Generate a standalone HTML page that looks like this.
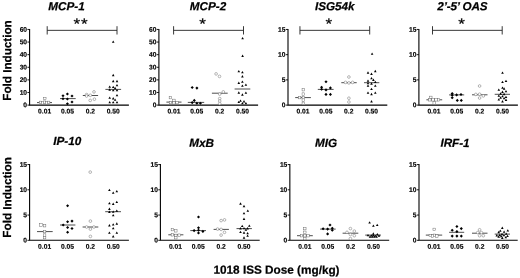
<!DOCTYPE html><html><head><meta charset="utf-8"><title>Figure</title>
<style>html,body{margin:0;padding:0;background:#fff}svg{display:block}text{font-family:'Liberation Sans', Arial, sans-serif;fill:#000;text-rendering:geometricPrecision}.b{stroke:#000;stroke-width:0.22px}.s{stroke:#000;stroke-width:0.15px}</style></head><body>
<svg width="520" height="278" viewBox="0 0 520 278">
<rect width="520" height="278" fill="#fff"/>
<g>
<g><text transform="translate(66.5 10.3) rotate(0.15)" font-size="11.7" class="b" font-weight="bold" font-style="italic" letter-spacing="0" text-anchor="middle">MCP-1</text><path d="M29.6 28.9V105.1H128.9" fill="none" stroke="#000" stroke-width="1.1"/><path d="M27.45 105.10H29.6" stroke="#000" stroke-width="0.9"/><text transform="translate(27.10 107.30) rotate(0.15)" font-size="6.7" class="s" font-weight="bold" text-anchor="end">0</text><path d="M27.45 92.49H29.6" stroke="#000" stroke-width="0.9"/><text transform="translate(27.10 94.69) rotate(0.15)" font-size="6.7" class="s" font-weight="bold" text-anchor="end">10</text><path d="M27.45 79.88H29.6" stroke="#000" stroke-width="0.9"/><text transform="translate(27.10 82.08) rotate(0.15)" font-size="6.7" class="s" font-weight="bold" text-anchor="end">20</text><path d="M27.45 67.28H29.6" stroke="#000" stroke-width="0.9"/><text transform="translate(27.10 69.48) rotate(0.15)" font-size="6.7" class="s" font-weight="bold" text-anchor="end">30</text><path d="M27.45 54.67H29.6" stroke="#000" stroke-width="0.9"/><text transform="translate(27.10 56.87) rotate(0.15)" font-size="6.7" class="s" font-weight="bold" text-anchor="end">40</text><path d="M27.45 42.06H29.6" stroke="#000" stroke-width="0.9"/><text transform="translate(27.10 44.26) rotate(0.15)" font-size="6.7" class="s" font-weight="bold" text-anchor="end">50</text><path d="M27.45 29.45H29.6" stroke="#000" stroke-width="0.9"/><text transform="translate(27.10 31.65) rotate(0.15)" font-size="6.7" class="s" font-weight="bold" text-anchor="end">60</text><text transform="translate(44.60 113.50) rotate(0.15)" font-size="6.7" class="s" font-weight="bold" text-anchor="middle">0.01</text><text transform="translate(67.45 113.50) rotate(0.15)" font-size="6.7" class="s" font-weight="bold" text-anchor="middle">0.05</text><text transform="translate(90.30 113.50) rotate(0.15)" font-size="6.7" class="s" font-weight="bold" text-anchor="middle">0.2</text><text transform="translate(113.15 113.50) rotate(0.15)" font-size="6.7" class="s" font-weight="bold" text-anchor="middle">0.50</text><path d="M47.2 26.200000000000003V34.5M117.0 26.200000000000003V34.5M47.2 30.35H117.0" stroke="#222" stroke-width="0.9" fill="none"/><text transform="translate(81 29.1) rotate(0.15) scale(1 0.9)" font-size="17" text-anchor="middle" stroke="#000" stroke-width="0.25" letter-spacing="0.9" font-weight="normal">**</text><path d="M37 102.6H52" stroke="#000" stroke-width="0.7"/><rect x="43.55" y="97.25" width="2.50" height="2.50" fill="#fff" stroke="#606060" stroke-width="0.45"/><rect x="39.25" y="101.15" width="2.50" height="2.50" fill="#fff" stroke="#606060" stroke-width="0.45"/><rect x="41.35" y="101.65" width="2.50" height="2.50" fill="#fff" stroke="#606060" stroke-width="0.45"/><rect x="43.35" y="100.95" width="2.50" height="2.50" fill="#fff" stroke="#606060" stroke-width="0.45"/><rect x="45.35" y="101.65" width="2.50" height="2.50" fill="#fff" stroke="#606060" stroke-width="0.45"/><rect x="47.35" y="101.15" width="2.50" height="2.50" fill="#fff" stroke="#606060" stroke-width="0.45"/><path d="M60 98.6H75.7" stroke="#000" stroke-width="0.7"/><path d="M63.00 94.15L64.55 95.70L63.00 97.25L61.45 95.70Z" fill="#000"/><path d="M67.40 92.45L68.95 94.00L67.40 95.55L65.85 94.00Z" fill="#000"/><path d="M72.00 94.45L73.55 96.00L72.00 97.55L70.45 96.00Z" fill="#000"/><path d="M63.00 97.25L64.55 98.80L63.00 100.35L61.45 98.80Z" fill="#000"/><path d="M67.40 97.45L68.95 99.00L67.40 100.55L65.85 99.00Z" fill="#000"/><path d="M72.00 100.45L73.55 102.00L72.00 103.55L70.45 102.00Z" fill="#000"/><path d="M67.40 102.25L68.95 103.80L67.40 105.35L65.85 103.80Z" fill="#000"/><path d="M82.8 95.5H98.1" stroke="#000" stroke-width="0.7"/><circle cx="86.60" cy="94.60" r="1.35" fill="#fff" stroke="#606060" stroke-width="0.45"/><circle cx="86.60" cy="96.00" r="1.35" fill="#fff" stroke="#606060" stroke-width="0.45"/><circle cx="90.30" cy="95.30" r="1.35" fill="#fff" stroke="#606060" stroke-width="0.45"/><circle cx="94.00" cy="91.90" r="1.35" fill="#fff" stroke="#606060" stroke-width="0.45"/><circle cx="90.20" cy="100.40" r="1.35" fill="#fff" stroke="#606060" stroke-width="0.45"/><circle cx="94.40" cy="99.20" r="1.35" fill="#fff" stroke="#606060" stroke-width="0.45"/><path d="M105.4 89.4H121.1" stroke="#000" stroke-width="0.7"/><path d="M113.20 40.40L114.50 42.74L111.90 42.74Z" fill="#000"/><path d="M113.20 73.80L114.50 76.14L111.90 76.14Z" fill="#000"/><path d="M113.20 79.80L114.50 82.14L111.90 82.14Z" fill="#000"/><path d="M117.00 79.80L118.30 82.14L115.70 82.14Z" fill="#000"/><path d="M117.00 83.90L118.30 86.24L115.70 86.24Z" fill="#000"/><path d="M109.70 85.50L111.00 87.84L108.40 87.84Z" fill="#000"/><path d="M113.20 85.70L114.50 88.04L111.90 88.04Z" fill="#000"/><path d="M115.10 86.80L116.40 89.14L113.80 89.14Z" fill="#000"/><path d="M109.70 88.30L111.00 90.64L108.40 90.64Z" fill="#000"/><path d="M113.20 88.90L114.50 91.24L111.90 91.24Z" fill="#000"/><path d="M117.00 88.90L118.30 91.24L115.70 91.24Z" fill="#000"/><path d="M117.00 94.00L118.30 96.34L115.70 96.34Z" fill="#000"/><path d="M109.70 96.50L111.00 98.84L108.40 98.84Z" fill="#000"/><path d="M113.20 97.10L114.50 99.44L111.90 99.44Z" fill="#000"/><path d="M115.10 98.40L116.40 100.74L113.80 100.74Z" fill="#000"/><path d="M109.70 100.90L111.00 103.24L108.40 103.24Z" fill="#000"/><path d="M113.20 100.90L114.50 103.24L111.90 103.24Z" fill="#000"/><path d="M117.00 100.90L118.30 103.24L115.70 103.24Z" fill="#000"/></g>
<g><text transform="translate(208 10.3) rotate(0.15)" font-size="11.7" class="b" font-weight="bold" font-style="italic" letter-spacing="0" text-anchor="middle">MCP-2</text><path d="M158.9 28.9V105.1H258.1" fill="none" stroke="#000" stroke-width="1.1"/><path d="M156.75 105.10H158.9" stroke="#000" stroke-width="0.9"/><text transform="translate(156.40 107.30) rotate(0.15)" font-size="6.7" class="s" font-weight="bold" text-anchor="end">0</text><path d="M156.75 92.49H158.9" stroke="#000" stroke-width="0.9"/><text transform="translate(156.40 94.69) rotate(0.15)" font-size="6.7" class="s" font-weight="bold" text-anchor="end">10</text><path d="M156.75 79.88H158.9" stroke="#000" stroke-width="0.9"/><text transform="translate(156.40 82.08) rotate(0.15)" font-size="6.7" class="s" font-weight="bold" text-anchor="end">20</text><path d="M156.75 67.28H158.9" stroke="#000" stroke-width="0.9"/><text transform="translate(156.40 69.48) rotate(0.15)" font-size="6.7" class="s" font-weight="bold" text-anchor="end">30</text><path d="M156.75 54.67H158.9" stroke="#000" stroke-width="0.9"/><text transform="translate(156.40 56.87) rotate(0.15)" font-size="6.7" class="s" font-weight="bold" text-anchor="end">40</text><path d="M156.75 42.06H158.9" stroke="#000" stroke-width="0.9"/><text transform="translate(156.40 44.26) rotate(0.15)" font-size="6.7" class="s" font-weight="bold" text-anchor="end">50</text><path d="M156.75 29.45H158.9" stroke="#000" stroke-width="0.9"/><text transform="translate(156.40 31.65) rotate(0.15)" font-size="6.7" class="s" font-weight="bold" text-anchor="end">60</text><text transform="translate(173.90 113.50) rotate(0.15)" font-size="6.7" class="s" font-weight="bold" text-anchor="middle">0.01</text><text transform="translate(196.75 113.50) rotate(0.15)" font-size="6.7" class="s" font-weight="bold" text-anchor="middle">0.05</text><text transform="translate(219.60 113.50) rotate(0.15)" font-size="6.7" class="s" font-weight="bold" text-anchor="middle">0.2</text><text transform="translate(242.45 113.50) rotate(0.15)" font-size="6.7" class="s" font-weight="bold" text-anchor="middle">0.50</text><path d="M173.6 26.200000000000003V34.5M243.5 26.200000000000003V34.5M173.6 30.35H243.5" stroke="#222" stroke-width="0.9" fill="none"/><text transform="translate(203 29.1) rotate(0.15) scale(1 0.9)" font-size="17" text-anchor="middle" stroke="#000" stroke-width="0.25" letter-spacing="0.9" font-weight="normal">*</text><path d="M166.4 102.1H181.5" stroke="#000" stroke-width="0.7"/><rect x="169.15" y="96.35" width="2.50" height="2.50" fill="#fff" stroke="#606060" stroke-width="0.45"/><rect x="172.65" y="99.15" width="2.50" height="2.50" fill="#fff" stroke="#606060" stroke-width="0.45"/><rect x="169.25" y="101.35" width="2.50" height="2.50" fill="#fff" stroke="#606060" stroke-width="0.45"/><rect x="172.65" y="101.55" width="2.50" height="2.50" fill="#fff" stroke="#606060" stroke-width="0.45"/><rect x="175.75" y="101.35" width="2.50" height="2.50" fill="#fff" stroke="#606060" stroke-width="0.45"/><path d="M187.8 102.4H204.2" stroke="#000" stroke-width="0.7"/><path d="M192.20 85.95L193.75 87.50L192.20 89.05L190.65 87.50Z" fill="#000"/><path d="M196.90 86.55L198.45 88.10L196.90 89.65L195.35 88.10Z" fill="#000"/><path d="M194.30 98.85L195.85 100.40L194.30 101.95L192.75 100.40Z" fill="#000"/><path d="M192.20 101.05L193.75 102.60L192.20 104.15L190.65 102.60Z" fill="#000"/><path d="M196.90 101.75L198.45 103.30L196.90 104.85L195.35 103.30Z" fill="#000"/><path d="M200.40 101.75L201.95 103.30L200.40 104.85L198.85 103.30Z" fill="#000"/><path d="M211.9 93.2H227.7" stroke="#000" stroke-width="0.7"/><circle cx="216.10" cy="73.90" r="1.35" fill="#fff" stroke="#606060" stroke-width="0.45"/><circle cx="219.50" cy="76.40" r="1.35" fill="#fff" stroke="#606060" stroke-width="0.45"/><circle cx="223.30" cy="91.90" r="1.35" fill="#fff" stroke="#606060" stroke-width="0.45"/><circle cx="219.70" cy="94.10" r="1.35" fill="#fff" stroke="#606060" stroke-width="0.45"/><circle cx="219.70" cy="98.60" r="1.35" fill="#fff" stroke="#606060" stroke-width="0.45"/><circle cx="219.70" cy="101.10" r="1.35" fill="#fff" stroke="#606060" stroke-width="0.45"/><circle cx="219.70" cy="103.60" r="1.35" fill="#fff" stroke="#606060" stroke-width="0.45"/><path d="M234.6 89H250.3" stroke="#000" stroke-width="0.7"/><path d="M242.60 37.00L243.90 39.34L241.30 39.34Z" fill="#000"/><path d="M242.60 54.60L243.90 56.94L241.30 56.94Z" fill="#000"/><path d="M238.80 70.00L240.10 72.34L237.50 72.34Z" fill="#000"/><path d="M242.40 71.00L243.70 73.34L241.10 73.34Z" fill="#000"/><path d="M242.40 75.10L243.70 77.44L241.10 77.44Z" fill="#000"/><path d="M238.80 81.60L240.10 83.94L237.50 83.94Z" fill="#000"/><path d="M242.40 80.40L243.70 82.74L241.10 82.74Z" fill="#000"/><path d="M245.90 83.50L247.20 85.84L244.60 85.84Z" fill="#000"/><path d="M242.40 84.50L243.70 86.84L241.10 86.84Z" fill="#000"/><path d="M238.80 91.30L240.10 93.64L237.50 93.64Z" fill="#000"/><path d="M245.90 91.40L247.20 93.74L244.60 93.74Z" fill="#000"/><path d="M242.40 93.30L243.70 95.64L241.10 95.64Z" fill="#000"/><path d="M240.50 99.40L241.80 101.74L239.20 101.74Z" fill="#000"/><path d="M238.80 100.70L240.10 103.04L237.50 103.04Z" fill="#000"/><path d="M244.00 100.10L245.30 102.44L242.70 102.44Z" fill="#000"/><path d="M242.40 102.00L243.70 104.34L241.10 104.34Z" fill="#000"/><path d="M245.90 102.00L247.20 104.34L244.60 104.34Z" fill="#000"/></g>
<g><text transform="translate(334.8 10.3) rotate(0.15)" font-size="11.7" class="b" font-weight="bold" font-style="italic" letter-spacing="0" text-anchor="middle">ISG54k</text><path d="M288.0 28.9V105.1H387.3" fill="none" stroke="#000" stroke-width="1.1"/><path d="M285.84999999999997 105.10H288.0" stroke="#000" stroke-width="0.9"/><text transform="translate(285.50 107.30) rotate(0.15)" font-size="6.7" class="s" font-weight="bold" text-anchor="end">0</text><path d="M285.84999999999997 79.88H288.0" stroke="#000" stroke-width="0.9"/><text transform="translate(285.50 82.08) rotate(0.15)" font-size="6.7" class="s" font-weight="bold" text-anchor="end">5</text><path d="M285.84999999999997 54.67H288.0" stroke="#000" stroke-width="0.9"/><text transform="translate(285.50 56.87) rotate(0.15)" font-size="6.7" class="s" font-weight="bold" text-anchor="end">10</text><path d="M285.84999999999997 29.45H288.0" stroke="#000" stroke-width="0.9"/><text transform="translate(285.50 31.65) rotate(0.15)" font-size="6.7" class="s" font-weight="bold" text-anchor="end">15</text><text transform="translate(303.00 113.50) rotate(0.15)" font-size="6.7" class="s" font-weight="bold" text-anchor="middle">0.01</text><text transform="translate(325.85 113.50) rotate(0.15)" font-size="6.7" class="s" font-weight="bold" text-anchor="middle">0.05</text><text transform="translate(348.70 113.50) rotate(0.15)" font-size="6.7" class="s" font-weight="bold" text-anchor="middle">0.2</text><text transform="translate(371.55 113.50) rotate(0.15)" font-size="6.7" class="s" font-weight="bold" text-anchor="middle">0.50</text><path d="M299.95 26.200000000000003V34.5M369.7 26.200000000000003V34.5M299.95 30.35H369.7" stroke="#222" stroke-width="0.9" fill="none"/><text transform="translate(329.3 29.1) rotate(0.15) scale(1 0.9)" font-size="17" text-anchor="middle" stroke="#000" stroke-width="0.25" letter-spacing="0.9" font-weight="normal">*</text><path d="M295.2 97.6H310.9" stroke="#000" stroke-width="0.7"/><rect x="302.05" y="88.45" width="2.50" height="2.50" fill="#fff" stroke="#606060" stroke-width="0.45"/><rect x="302.05" y="92.85" width="2.50" height="2.50" fill="#fff" stroke="#606060" stroke-width="0.45"/><rect x="298.35" y="96.35" width="2.50" height="2.50" fill="#fff" stroke="#606060" stroke-width="0.45"/><rect x="302.05" y="96.55" width="2.50" height="2.50" fill="#fff" stroke="#606060" stroke-width="0.45"/><rect x="302.05" y="98.85" width="2.50" height="2.50" fill="#fff" stroke="#606060" stroke-width="0.45"/><rect x="302.05" y="102.05" width="2.50" height="2.50" fill="#fff" stroke="#606060" stroke-width="0.45"/><path d="M317.8 89.4H333.6" stroke="#000" stroke-width="0.7"/><path d="M326.00 80.15L327.55 81.70L326.00 83.25L324.45 81.70Z" fill="#000"/><path d="M321.60 85.75L323.15 87.30L321.60 88.85L320.05 87.30Z" fill="#000"/><path d="M330.40 86.35L331.95 87.90L330.40 89.45L328.85 87.90Z" fill="#000"/><path d="M321.60 87.65L323.15 89.20L321.60 90.75L320.05 89.20Z" fill="#000"/><path d="M326.00 88.35L327.55 89.90L326.00 91.45L324.45 89.90Z" fill="#000"/><path d="M326.00 92.85L327.55 94.40L326.00 95.95L324.45 94.40Z" fill="#000"/><path d="M330.40 92.85L331.95 94.40L330.40 95.95L328.85 94.40Z" fill="#000"/><path d="M341.3 82.7H356.7" stroke="#000" stroke-width="0.7"/><circle cx="348.90" cy="77.00" r="1.35" fill="#fff" stroke="#606060" stroke-width="0.45"/><circle cx="345.50" cy="82.40" r="1.35" fill="#fff" stroke="#606060" stroke-width="0.45"/><circle cx="348.90" cy="82.90" r="1.35" fill="#fff" stroke="#606060" stroke-width="0.45"/><circle cx="352.60" cy="82.40" r="1.35" fill="#fff" stroke="#606060" stroke-width="0.45"/><circle cx="348.90" cy="98.20" r="1.35" fill="#fff" stroke="#606060" stroke-width="0.45"/><circle cx="348.90" cy="102.00" r="1.35" fill="#fff" stroke="#606060" stroke-width="0.45"/><path d="M364 82.7H379.3" stroke="#000" stroke-width="0.7"/><path d="M372.10 52.40L373.40 54.74L370.80 54.74Z" fill="#000"/><path d="M375.30 69.80L376.60 72.14L374.00 72.14Z" fill="#000"/><path d="M368.00 71.30L369.30 73.64L366.70 73.64Z" fill="#000"/><path d="M371.50 72.60L372.80 74.94L370.20 74.94Z" fill="#000"/><path d="M371.50 77.00L372.80 79.34L370.20 79.34Z" fill="#000"/><path d="M373.40 78.60L374.70 80.94L372.10 80.94Z" fill="#000"/><path d="M368.00 79.50L369.30 81.84L366.70 81.84Z" fill="#000"/><path d="M375.30 80.70L376.60 83.04L374.00 83.04Z" fill="#000"/><path d="M368.00 82.00L369.30 84.34L366.70 84.34Z" fill="#000"/><path d="M371.50 82.30L372.80 84.64L370.20 84.64Z" fill="#000"/><path d="M368.00 84.50L369.30 86.84L366.70 86.84Z" fill="#000"/><path d="M375.30 84.50L376.60 86.84L374.00 86.84Z" fill="#000"/><path d="M371.50 87.70L372.80 90.04L370.20 90.04Z" fill="#000"/><path d="M368.00 91.40L369.30 93.74L366.70 93.74Z" fill="#000"/><path d="M375.30 91.40L376.60 93.74L374.00 93.74Z" fill="#000"/><path d="M371.50 92.80L372.80 95.14L370.20 95.14Z" fill="#000"/><path d="M371.50 100.10L372.80 102.44L370.20 102.44Z" fill="#000"/></g>
<g><text transform="translate(462.4 10.3) rotate(0.15)" font-size="11.7" class="b" font-weight="bold" font-style="italic" letter-spacing="-0.15" text-anchor="middle">2’-5’ OAS</text><path d="M418.9 28.9V105.1H517.9" fill="none" stroke="#000" stroke-width="1.1"/><path d="M416.74999999999994 105.10H418.9" stroke="#000" stroke-width="0.9"/><text transform="translate(416.40 107.30) rotate(0.15)" font-size="6.7" class="s" font-weight="bold" text-anchor="end">0</text><path d="M416.74999999999994 79.88H418.9" stroke="#000" stroke-width="0.9"/><text transform="translate(416.40 82.08) rotate(0.15)" font-size="6.7" class="s" font-weight="bold" text-anchor="end">5</text><path d="M416.74999999999994 54.67H418.9" stroke="#000" stroke-width="0.9"/><text transform="translate(416.40 56.87) rotate(0.15)" font-size="6.7" class="s" font-weight="bold" text-anchor="end">10</text><path d="M416.74999999999994 29.45H418.9" stroke="#000" stroke-width="0.9"/><text transform="translate(416.40 31.65) rotate(0.15)" font-size="6.7" class="s" font-weight="bold" text-anchor="end">15</text><text transform="translate(433.90 113.50) rotate(0.15)" font-size="6.7" class="s" font-weight="bold" text-anchor="middle">0.01</text><text transform="translate(456.75 113.50) rotate(0.15)" font-size="6.7" class="s" font-weight="bold" text-anchor="middle">0.05</text><text transform="translate(479.60 113.50) rotate(0.15)" font-size="6.7" class="s" font-weight="bold" text-anchor="middle">0.2</text><text transform="translate(502.45 113.50) rotate(0.15)" font-size="6.7" class="s" font-weight="bold" text-anchor="middle">0.50</text><path d="M432.5 26.200000000000003V34.5M502.2 26.200000000000003V34.5M432.5 30.35H502.2" stroke="#222" stroke-width="0.9" fill="none"/><text transform="translate(462.0 29.1) rotate(0.15) scale(1 0.9)" font-size="17" text-anchor="middle" stroke="#000" stroke-width="0.25" letter-spacing="0.9" font-weight="normal">*</text><path d="M426.4 99.8H442.2" stroke="#000" stroke-width="0.7"/><rect x="429.55" y="96.15" width="2.50" height="2.50" fill="#fff" stroke="#606060" stroke-width="0.45"/><rect x="428.55" y="98.55" width="2.50" height="2.50" fill="#fff" stroke="#606060" stroke-width="0.45"/><rect x="431.75" y="98.55" width="2.50" height="2.50" fill="#fff" stroke="#606060" stroke-width="0.45"/><rect x="434.75" y="98.55" width="2.50" height="2.50" fill="#fff" stroke="#606060" stroke-width="0.45"/><rect x="437.25" y="98.55" width="2.50" height="2.50" fill="#fff" stroke="#606060" stroke-width="0.45"/><rect x="432.95" y="101.75" width="2.50" height="2.50" fill="#fff" stroke="#606060" stroke-width="0.45"/><path d="M449.1 94.9H464.2" stroke="#000" stroke-width="0.7"/><path d="M452.20 92.05L453.75 93.60L452.20 95.15L450.65 93.60Z" fill="#000"/><path d="M452.20 93.65L453.75 95.20L452.20 96.75L450.65 95.20Z" fill="#000"/><path d="M456.60 93.35L458.15 94.90L456.60 96.45L455.05 94.90Z" fill="#000"/><path d="M461.00 92.95L462.55 94.50L461.00 96.05L459.45 94.50Z" fill="#000"/><path d="M452.20 96.15L453.75 97.70L452.20 99.25L450.65 97.70Z" fill="#000"/><path d="M457.30 98.85L458.85 100.40L457.30 101.95L455.75 100.40Z" fill="#000"/><path d="M461.30 98.85L462.85 100.40L461.30 101.95L459.75 100.40Z" fill="#000"/><path d="M472 94.8H487.5" stroke="#000" stroke-width="0.7"/><circle cx="479.60" cy="86.00" r="1.35" fill="#fff" stroke="#606060" stroke-width="0.45"/><circle cx="475.80" cy="94.40" r="1.35" fill="#fff" stroke="#606060" stroke-width="0.45"/><circle cx="479.60" cy="94.20" r="1.35" fill="#fff" stroke="#606060" stroke-width="0.45"/><circle cx="483.30" cy="95.90" r="1.35" fill="#fff" stroke="#606060" stroke-width="0.45"/><circle cx="479.60" cy="98.00" r="1.35" fill="#fff" stroke="#606060" stroke-width="0.45"/><path d="M494.7 94.3H510" stroke="#000" stroke-width="0.7"/><path d="M502.50 71.50L503.80 73.84L501.20 73.84Z" fill="#000"/><path d="M502.50 80.70L503.80 83.04L501.20 83.04Z" fill="#000"/><path d="M506.00 79.70L507.30 82.04L504.70 82.04Z" fill="#000"/><path d="M502.50 86.40L503.80 88.74L501.20 88.74Z" fill="#000"/><path d="M504.10 87.30L505.40 89.64L502.80 89.64Z" fill="#000"/><path d="M498.80 88.40L500.10 90.74L497.50 90.74Z" fill="#000"/><path d="M506.00 90.00L507.30 92.34L504.70 92.34Z" fill="#000"/><path d="M502.50 90.60L503.80 92.94L501.20 92.94Z" fill="#000"/><path d="M500.60 92.30L501.90 94.64L499.30 94.64Z" fill="#000"/><path d="M504.10 92.80L505.40 95.14L502.80 95.14Z" fill="#000"/><path d="M498.80 94.40L500.10 96.74L497.50 96.74Z" fill="#000"/><path d="M502.50 95.00L503.80 97.34L501.20 97.34Z" fill="#000"/><path d="M506.00 95.70L507.30 98.04L504.70 98.04Z" fill="#000"/><path d="M500.60 96.30L501.90 98.64L499.30 98.64Z" fill="#000"/><path d="M504.10 96.90L505.40 99.24L502.80 99.24Z" fill="#000"/><path d="M498.80 98.20L500.10 100.54L497.50 100.54Z" fill="#000"/><path d="M506.00 98.60L507.30 100.94L504.70 100.94Z" fill="#000"/><path d="M502.50 100.10L503.80 102.44L501.20 102.44Z" fill="#000"/></g>
<g><text transform="translate(67.3 145.0) rotate(0.15)" font-size="11.7" class="b" font-weight="bold" font-style="italic" letter-spacing="0" text-anchor="middle">IP-10</text><path d="M29.6 164.0V240.3H128.9" fill="none" stroke="#000" stroke-width="1.1"/><path d="M27.45 240.30H29.6" stroke="#000" stroke-width="0.9"/><text transform="translate(27.10 242.50) rotate(0.15)" font-size="6.7" class="s" font-weight="bold" text-anchor="end">0</text><path d="M27.45 215.05H29.6" stroke="#000" stroke-width="0.9"/><text transform="translate(27.10 217.25) rotate(0.15)" font-size="6.7" class="s" font-weight="bold" text-anchor="end">5</text><path d="M27.45 189.80H29.6" stroke="#000" stroke-width="0.9"/><text transform="translate(27.10 192.00) rotate(0.15)" font-size="6.7" class="s" font-weight="bold" text-anchor="end">10</text><path d="M27.45 164.55H29.6" stroke="#000" stroke-width="0.9"/><text transform="translate(27.10 166.75) rotate(0.15)" font-size="6.7" class="s" font-weight="bold" text-anchor="end">15</text><text transform="translate(44.60 248.70) rotate(0.15)" font-size="6.7" class="s" font-weight="bold" text-anchor="middle">0.01</text><text transform="translate(67.45 248.70) rotate(0.15)" font-size="6.7" class="s" font-weight="bold" text-anchor="middle">0.05</text><text transform="translate(90.30 248.70) rotate(0.15)" font-size="6.7" class="s" font-weight="bold" text-anchor="middle">0.2</text><text transform="translate(113.15 248.70) rotate(0.15)" font-size="6.7" class="s" font-weight="bold" text-anchor="middle">0.50</text><path d="M37 231.6H52.7" stroke="#000" stroke-width="0.7"/><rect x="39.75" y="223.75" width="2.50" height="2.50" fill="#fff" stroke="#606060" stroke-width="0.45"/><rect x="43.35" y="224.45" width="2.50" height="2.50" fill="#fff" stroke="#606060" stroke-width="0.45"/><rect x="43.35" y="230.35" width="2.50" height="2.50" fill="#fff" stroke="#606060" stroke-width="0.45"/><rect x="43.35" y="233.85" width="2.50" height="2.50" fill="#fff" stroke="#606060" stroke-width="0.45"/><rect x="43.35" y="236.35" width="2.50" height="2.50" fill="#fff" stroke="#606060" stroke-width="0.45"/><path d="M60 225H75.4" stroke="#000" stroke-width="0.7"/><path d="M67.60 204.15L69.15 205.70L67.60 207.25L66.05 205.70Z" fill="#000"/><path d="M67.60 220.15L69.15 221.70L67.60 223.25L66.05 221.70Z" fill="#000"/><path d="M72.00 219.55L73.55 221.10L72.00 222.65L70.45 221.10Z" fill="#000"/><path d="M63.20 223.45L64.75 225.00L63.20 226.55L61.65 225.00Z" fill="#000"/><path d="M67.60 225.95L69.15 227.50L67.60 229.05L66.05 227.50Z" fill="#000"/><path d="M72.00 226.95L73.55 228.50L72.00 230.05L70.45 228.50Z" fill="#000"/><path d="M67.60 230.75L69.15 232.30L67.60 233.85L66.05 232.30Z" fill="#000"/><path d="M82.6 227H98.3" stroke="#000" stroke-width="0.7"/><circle cx="90.20" cy="172.10" r="1.35" fill="#fff" stroke="#606060" stroke-width="0.45"/><circle cx="90.40" cy="221.10" r="1.35" fill="#fff" stroke="#606060" stroke-width="0.45"/><circle cx="86.60" cy="227.00" r="1.35" fill="#fff" stroke="#606060" stroke-width="0.45"/><circle cx="93.90" cy="227.00" r="1.35" fill="#fff" stroke="#606060" stroke-width="0.45"/><circle cx="90.40" cy="229.10" r="1.35" fill="#fff" stroke="#606060" stroke-width="0.45"/><circle cx="90.40" cy="236.40" r="1.35" fill="#fff" stroke="#606060" stroke-width="0.45"/><path d="M105.2 211.7H121" stroke="#000" stroke-width="0.7"/><path d="M109.40 188.70L110.70 191.04L108.10 191.04Z" fill="#000"/><path d="M113.20 191.50L114.50 193.84L111.90 193.84Z" fill="#000"/><path d="M116.80 190.00L118.10 192.34L115.50 192.34Z" fill="#000"/><path d="M109.40 202.00L110.70 204.34L108.10 204.34Z" fill="#000"/><path d="M113.20 202.60L114.50 204.94L111.90 204.94Z" fill="#000"/><path d="M116.80 200.70L118.10 203.04L115.50 203.04Z" fill="#000"/><path d="M109.40 207.60L110.70 209.94L108.10 209.94Z" fill="#000"/><path d="M116.80 209.50L118.10 211.84L115.50 211.84Z" fill="#000"/><path d="M109.40 210.60L110.70 212.94L108.10 212.94Z" fill="#000"/><path d="M113.20 210.40L114.50 212.74L111.90 212.74Z" fill="#000"/><path d="M113.20 213.90L114.50 216.24L111.90 216.24Z" fill="#000"/><path d="M116.80 222.30L118.10 224.64L115.50 224.64Z" fill="#000"/><path d="M113.20 223.20L114.50 225.54L111.90 225.54Z" fill="#000"/><path d="M109.40 224.10L110.70 226.44L108.10 226.44Z" fill="#000"/><path d="M113.20 227.00L114.50 229.34L111.90 229.34Z" fill="#000"/><path d="M109.40 231.40L110.70 233.74L108.10 233.74Z" fill="#000"/><path d="M116.80 231.40L118.10 233.74L115.50 233.74Z" fill="#000"/><path d="M113.20 235.10L114.50 237.44L111.90 237.44Z" fill="#000"/></g>
<g><text transform="translate(201.5 146.9) rotate(0.15)" font-size="11.7" class="b" font-weight="bold" font-style="italic" letter-spacing="0" text-anchor="middle">MxB</text><path d="M160.4 164.0V240.3H259.7" fill="none" stroke="#000" stroke-width="1.1"/><path d="M158.25 240.30H160.4" stroke="#000" stroke-width="0.9"/><text transform="translate(157.90 242.50) rotate(0.15)" font-size="6.7" class="s" font-weight="bold" text-anchor="end">0</text><path d="M158.25 215.05H160.4" stroke="#000" stroke-width="0.9"/><text transform="translate(157.90 217.25) rotate(0.15)" font-size="6.7" class="s" font-weight="bold" text-anchor="end">5</text><path d="M158.25 189.80H160.4" stroke="#000" stroke-width="0.9"/><text transform="translate(157.90 192.00) rotate(0.15)" font-size="6.7" class="s" font-weight="bold" text-anchor="end">10</text><path d="M158.25 164.55H160.4" stroke="#000" stroke-width="0.9"/><text transform="translate(157.90 166.75) rotate(0.15)" font-size="6.7" class="s" font-weight="bold" text-anchor="end">15</text><text transform="translate(175.40 248.70) rotate(0.15)" font-size="6.7" class="s" font-weight="bold" text-anchor="middle">0.01</text><text transform="translate(198.25 248.70) rotate(0.15)" font-size="6.7" class="s" font-weight="bold" text-anchor="middle">0.05</text><text transform="translate(221.10 248.70) rotate(0.15)" font-size="6.7" class="s" font-weight="bold" text-anchor="middle">0.2</text><text transform="translate(243.95 248.70) rotate(0.15)" font-size="6.7" class="s" font-weight="bold" text-anchor="middle">0.50</text><path d="M168.3 234.8H183.4" stroke="#000" stroke-width="0.7"/><rect x="171.15" y="228.35" width="2.50" height="2.50" fill="#fff" stroke="#606060" stroke-width="0.45"/><rect x="174.55" y="229.55" width="2.50" height="2.50" fill="#fff" stroke="#606060" stroke-width="0.45"/><rect x="171.15" y="233.55" width="2.50" height="2.50" fill="#fff" stroke="#606060" stroke-width="0.45"/><rect x="174.55" y="234.15" width="2.50" height="2.50" fill="#fff" stroke="#606060" stroke-width="0.45"/><rect x="177.95" y="233.95" width="2.50" height="2.50" fill="#fff" stroke="#606060" stroke-width="0.45"/><rect x="174.55" y="236.45" width="2.50" height="2.50" fill="#fff" stroke="#606060" stroke-width="0.45"/><path d="M190.3 230.6H206" stroke="#000" stroke-width="0.7"/><path d="M198.50 215.45L200.05 217.00L198.50 218.55L196.95 217.00Z" fill="#000"/><path d="M198.50 226.15L200.05 227.70L198.50 229.25L196.95 227.70Z" fill="#000"/><path d="M194.10 229.05L195.65 230.60L194.10 232.15L192.55 230.60Z" fill="#000"/><path d="M198.50 228.65L200.05 230.20L198.50 231.75L196.95 230.20Z" fill="#000"/><path d="M202.90 229.85L204.45 231.40L202.90 232.95L201.35 231.40Z" fill="#000"/><path d="M198.50 231.45L200.05 233.00L198.50 234.55L196.95 233.00Z" fill="#000"/><path d="M213.6 229.4H228.9" stroke="#000" stroke-width="0.7"/><circle cx="221.10" cy="220.60" r="1.35" fill="#fff" stroke="#606060" stroke-width="0.45"/><circle cx="224.50" cy="219.90" r="1.35" fill="#fff" stroke="#606060" stroke-width="0.45"/><circle cx="217.60" cy="229.10" r="1.35" fill="#fff" stroke="#606060" stroke-width="0.45"/><circle cx="221.10" cy="229.40" r="1.35" fill="#fff" stroke="#606060" stroke-width="0.45"/><circle cx="224.50" cy="232.30" r="1.35" fill="#fff" stroke="#606060" stroke-width="0.45"/><circle cx="221.10" cy="235.10" r="1.35" fill="#fff" stroke="#606060" stroke-width="0.45"/><path d="M236.5 228.6H251.9" stroke="#000" stroke-width="0.7"/><path d="M240.50 202.30L241.80 204.64L239.20 204.64Z" fill="#000"/><path d="M244.00 204.80L245.30 207.14L242.70 207.14Z" fill="#000"/><path d="M247.80 209.40L249.10 211.74L246.50 211.74Z" fill="#000"/><path d="M244.00 212.00L245.30 214.34L242.70 214.34Z" fill="#000"/><path d="M244.00 217.60L245.30 219.94L242.70 219.94Z" fill="#000"/><path d="M242.20 224.70L243.50 227.04L240.90 227.04Z" fill="#000"/><path d="M249.30 224.40L250.60 226.74L248.00 226.74Z" fill="#000"/><path d="M240.50 227.10L241.80 229.44L239.20 229.44Z" fill="#000"/><path d="M244.00 226.90L245.30 229.24L242.70 229.24Z" fill="#000"/><path d="M247.60 227.10L248.90 229.44L246.30 229.44Z" fill="#000"/><path d="M245.90 228.50L247.20 230.84L244.60 230.84Z" fill="#000"/><path d="M240.50 230.70L241.80 233.04L239.20 233.04Z" fill="#000"/><path d="M244.00 231.30L245.30 233.64L242.70 233.64Z" fill="#000"/><path d="M247.60 231.90L248.90 234.24L246.30 234.24Z" fill="#000"/><path d="M247.60 234.40L248.90 236.74L246.30 236.74Z" fill="#000"/><path d="M244.00 236.30L245.30 238.64L242.70 238.64Z" fill="#000"/></g>
<g><text transform="translate(326.1 146.9) rotate(0.15)" font-size="11.7" class="b" font-weight="bold" font-style="italic" letter-spacing="0" text-anchor="middle">MIG</text><path d="M289.85 164.0V240.3H389.2" fill="none" stroke="#000" stroke-width="1.1"/><path d="M287.7 240.30H289.85" stroke="#000" stroke-width="0.9"/><text transform="translate(287.35 242.50) rotate(0.15)" font-size="6.7" class="s" font-weight="bold" text-anchor="end">0</text><path d="M287.7 215.05H289.85" stroke="#000" stroke-width="0.9"/><text transform="translate(287.35 217.25) rotate(0.15)" font-size="6.7" class="s" font-weight="bold" text-anchor="end">5</text><path d="M287.7 189.80H289.85" stroke="#000" stroke-width="0.9"/><text transform="translate(287.35 192.00) rotate(0.15)" font-size="6.7" class="s" font-weight="bold" text-anchor="end">10</text><path d="M287.7 164.55H289.85" stroke="#000" stroke-width="0.9"/><text transform="translate(287.35 166.75) rotate(0.15)" font-size="6.7" class="s" font-weight="bold" text-anchor="end">15</text><text transform="translate(304.85 248.70) rotate(0.15)" font-size="6.7" class="s" font-weight="bold" text-anchor="middle">0.01</text><text transform="translate(327.70 248.70) rotate(0.15)" font-size="6.7" class="s" font-weight="bold" text-anchor="middle">0.05</text><text transform="translate(350.55 248.70) rotate(0.15)" font-size="6.7" class="s" font-weight="bold" text-anchor="middle">0.2</text><text transform="translate(373.40 248.70) rotate(0.15)" font-size="6.7" class="s" font-weight="bold" text-anchor="middle">0.50</text><path d="M297 235.7H312.8" stroke="#000" stroke-width="0.7"/><rect x="303.55" y="227.35" width="2.50" height="2.50" fill="#fff" stroke="#606060" stroke-width="0.45"/><rect x="303.55" y="231.05" width="2.50" height="2.50" fill="#fff" stroke="#606060" stroke-width="0.45"/><rect x="300.25" y="234.45" width="2.50" height="2.50" fill="#fff" stroke="#606060" stroke-width="0.45"/><rect x="303.55" y="234.45" width="2.50" height="2.50" fill="#fff" stroke="#606060" stroke-width="0.45"/><rect x="306.75" y="234.45" width="2.50" height="2.50" fill="#fff" stroke="#606060" stroke-width="0.45"/><rect x="303.55" y="237.35" width="2.50" height="2.50" fill="#fff" stroke="#606060" stroke-width="0.45"/><path d="M320.1 229.1H335.7" stroke="#000" stroke-width="0.7"/><path d="M330.00 223.45L331.55 225.00L330.00 226.55L328.45 225.00Z" fill="#000"/><path d="M323.10 227.25L324.65 228.80L323.10 230.35L321.55 228.80Z" fill="#000"/><path d="M327.60 227.55L329.15 229.10L327.60 230.65L326.05 229.10Z" fill="#000"/><path d="M332.30 226.65L333.85 228.20L332.30 229.75L330.75 228.20Z" fill="#000"/><path d="M332.30 228.75L333.85 230.30L332.30 231.85L330.75 230.30Z" fill="#000"/><path d="M327.60 232.35L329.15 233.90L327.60 235.45L326.05 233.90Z" fill="#000"/><path d="M342.6 233.2H358.3" stroke="#000" stroke-width="0.7"/><circle cx="350.40" cy="228.60" r="1.35" fill="#fff" stroke="#606060" stroke-width="0.45"/><circle cx="354.30" cy="231.10" r="1.35" fill="#fff" stroke="#606060" stroke-width="0.45"/><circle cx="347.00" cy="232.30" r="1.35" fill="#fff" stroke="#606060" stroke-width="0.45"/><circle cx="350.40" cy="234.50" r="1.35" fill="#fff" stroke="#606060" stroke-width="0.45"/><circle cx="354.30" cy="235.70" r="1.35" fill="#fff" stroke="#606060" stroke-width="0.45"/><circle cx="350.40" cy="238.60" r="1.35" fill="#fff" stroke="#606060" stroke-width="0.45"/><path d="M365.2 235.1H381" stroke="#000" stroke-width="0.7"/><path d="M369.60 221.20L370.90 223.54L368.30 223.54Z" fill="#000"/><path d="M373.40 224.40L374.70 226.74L372.10 226.74Z" fill="#000"/><path d="M377.20 223.70L378.50 226.04L375.90 226.04Z" fill="#000"/><path d="M373.30 232.30L374.60 234.64L372.00 234.64Z" fill="#000"/><path d="M377.30 233.00L378.60 235.34L376.00 235.34Z" fill="#000"/><path d="M368.00 234.00L369.30 236.34L366.70 236.34Z" fill="#000"/><path d="M371.30 234.20L372.60 236.54L370.00 236.54Z" fill="#000"/><path d="M375.30 234.40L376.60 236.74L374.00 236.74Z" fill="#000"/><path d="M379.00 234.30L380.30 236.64L377.70 236.64Z" fill="#000"/><path d="M370.00 235.50L371.30 237.84L368.70 237.84Z" fill="#000"/><path d="M372.20 235.50L373.50 237.84L370.90 237.84Z" fill="#000"/><path d="M374.40 235.50L375.70 237.84L373.10 237.84Z" fill="#000"/><path d="M376.60 235.50L377.90 237.84L375.30 237.84Z" fill="#000"/><path d="M373.30 234.10L374.60 236.44L372.00 236.44Z" fill="#000"/></g>
<g><text transform="translate(455 146.9) rotate(0.15)" font-size="11.7" class="b" font-weight="bold" font-style="italic" letter-spacing="0" text-anchor="middle">IRF-1</text><path d="M419.0 164.0V240.3H517.7" fill="none" stroke="#000" stroke-width="1.1"/><path d="M416.84999999999997 240.30H419.0" stroke="#000" stroke-width="0.9"/><text transform="translate(416.50 242.50) rotate(0.15)" font-size="6.7" class="s" font-weight="bold" text-anchor="end">0</text><path d="M416.84999999999997 215.05H419.0" stroke="#000" stroke-width="0.9"/><text transform="translate(416.50 217.25) rotate(0.15)" font-size="6.7" class="s" font-weight="bold" text-anchor="end">5</text><path d="M416.84999999999997 189.80H419.0" stroke="#000" stroke-width="0.9"/><text transform="translate(416.50 192.00) rotate(0.15)" font-size="6.7" class="s" font-weight="bold" text-anchor="end">10</text><path d="M416.84999999999997 164.55H419.0" stroke="#000" stroke-width="0.9"/><text transform="translate(416.50 166.75) rotate(0.15)" font-size="6.7" class="s" font-weight="bold" text-anchor="end">15</text><text transform="translate(434.00 248.70) rotate(0.15)" font-size="6.7" class="s" font-weight="bold" text-anchor="middle">0.01</text><text transform="translate(456.85 248.70) rotate(0.15)" font-size="6.7" class="s" font-weight="bold" text-anchor="middle">0.05</text><text transform="translate(479.70 248.70) rotate(0.15)" font-size="6.7" class="s" font-weight="bold" text-anchor="middle">0.2</text><text transform="translate(502.55 248.70) rotate(0.15)" font-size="6.7" class="s" font-weight="bold" text-anchor="middle">0.50</text><path d="M425.8 235.1H442.2" stroke="#000" stroke-width="0.7"/><rect x="432.95" y="228.15" width="2.50" height="2.50" fill="#fff" stroke="#606060" stroke-width="0.45"/><rect x="429.05" y="234.25" width="2.50" height="2.50" fill="#fff" stroke="#606060" stroke-width="0.45"/><rect x="431.25" y="234.75" width="2.50" height="2.50" fill="#fff" stroke="#606060" stroke-width="0.45"/><rect x="433.25" y="234.05" width="2.50" height="2.50" fill="#fff" stroke="#606060" stroke-width="0.45"/><rect x="435.55" y="234.75" width="2.50" height="2.50" fill="#fff" stroke="#606060" stroke-width="0.45"/><path d="M449.1 232.3H464.2" stroke="#000" stroke-width="0.7"/><path d="M456.90 224.95L458.45 226.50L456.90 228.05L455.35 226.50Z" fill="#000"/><path d="M452.20 228.75L453.75 230.30L452.20 231.85L450.65 230.30Z" fill="#000"/><path d="M461.30 227.05L462.85 228.60L461.30 230.15L459.75 228.60Z" fill="#000"/><path d="M456.90 230.05L458.45 231.60L456.90 233.15L455.35 231.60Z" fill="#000"/><path d="M452.20 234.55L453.75 236.10L452.20 237.65L450.65 236.10Z" fill="#000"/><path d="M456.90 234.55L458.45 236.10L456.90 237.65L455.35 236.10Z" fill="#000"/><path d="M461.30 234.55L462.85 236.10L461.30 237.65L459.75 236.10Z" fill="#000"/><path d="M472 233.2H487.5" stroke="#000" stroke-width="0.7"/><circle cx="479.60" cy="229.80" r="1.35" fill="#fff" stroke="#606060" stroke-width="0.45"/><circle cx="477.70" cy="232.60" r="1.35" fill="#fff" stroke="#606060" stroke-width="0.45"/><circle cx="481.40" cy="232.60" r="1.35" fill="#fff" stroke="#606060" stroke-width="0.45"/><circle cx="479.60" cy="235.70" r="1.35" fill="#fff" stroke="#606060" stroke-width="0.45"/><circle cx="483.30" cy="235.70" r="1.35" fill="#fff" stroke="#606060" stroke-width="0.45"/><path d="M494.7 234.1H510" stroke="#000" stroke-width="0.7"/><path d="M502.30 226.60L503.60 228.94L501.00 228.94Z" fill="#000"/><path d="M500.30 229.50L501.60 231.84L499.00 231.84Z" fill="#000"/><path d="M507.80 229.20L509.10 231.54L506.50 231.54Z" fill="#000"/><path d="M498.70 230.80L500.00 233.14L497.40 233.14Z" fill="#000"/><path d="M504.10 230.50L505.40 232.84L502.80 232.84Z" fill="#000"/><path d="M506.20 232.40L507.50 234.74L504.90 234.74Z" fill="#000"/><path d="M502.00 232.80L503.30 235.14L500.70 235.14Z" fill="#000"/><path d="M496.80 234.10L498.10 236.44L495.50 236.44Z" fill="#000"/><path d="M499.80 233.70L501.10 236.04L498.50 236.04Z" fill="#000"/><path d="M498.70 235.30L500.00 237.64L497.40 237.64Z" fill="#000"/><path d="M503.90 234.00L505.20 236.34L502.60 236.34Z" fill="#000"/><path d="M507.50 234.70L508.80 237.04L506.20 237.04Z" fill="#000"/><path d="M505.80 235.90L507.10 238.24L504.50 238.24Z" fill="#000"/><path d="M502.30 236.60L503.60 238.94L501.00 238.94Z" fill="#000"/><path d="M501.20 235.00L502.50 237.34L499.90 237.34Z" fill="#000"/></g>
<text transform="translate(11.2 60.5) rotate(-89.85)" font-size="11.7" class="b" font-weight="bold" text-anchor="middle">Fold Induction</text>
<text transform="translate(11.2 197.4) rotate(-89.85)" font-size="11.7" class="b" font-weight="bold" text-anchor="middle">Fold Induction</text>
<text transform="translate(276.5 273.8) rotate(0.15)" font-size="11.75" class="b" font-weight="bold" text-anchor="middle">1018 ISS Dose (mg/kg)</text>
</g></svg></body></html>
